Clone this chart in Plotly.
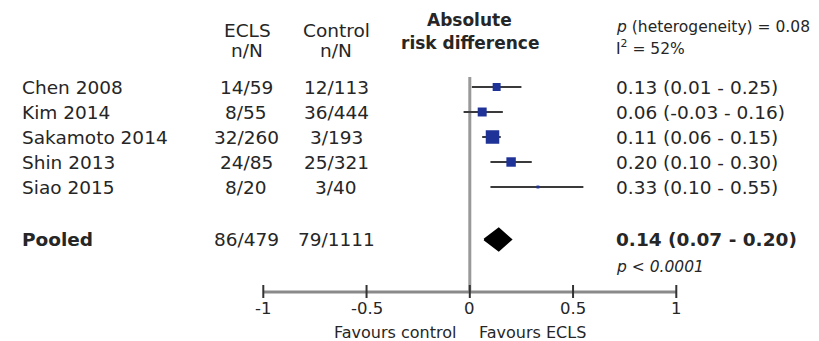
import plotly.graph_objects as go

# ---------------- data ----------------
studies = ["Chen 2008", "Kim 2014", "Sakamoto 2014", "Shin 2013", "Siao 2015"]
ecls_events = ["14/59", "8/55", "32/260", "24/85", "8/20"]
control_events = ["12/113", "36/444", "3/193", "25/321", "3/40"]
risk_diff = [0.13, 0.06, 0.11, 0.20, 0.33]
ci_low = [0.01, -0.03, 0.06, 0.10, 0.10]
ci_high = [0.25, 0.16, 0.15, 0.30, 0.55]
weights = [15, 19, 43, 21, 2]  # estimated study weights (%)

pooled_label = "Pooled"
pooled_ecls = "86/479"
pooled_control = "79/1111"
pooled_rd = 0.14
pooled_low = 0.07
pooled_high = 0.20

heterogeneity_p = "0.08"
i_squared = "52%"
pooled_p = "0.0001"

x_ticks = [-1, -0.5, 0, 0.5, 1]
x_tick_labels = ["-1", "-0.5", "0", "0.5", "1"]

# ---------------- layout constants ----------------
W, H = 819, 341
FONT = "DejaVu Sans"
TXT = "#262626"
BODY = 18.5
ROW_PX = 25.0
ROW0_PX = 87.0
X0_PX = 469.8
X_SCALE = 206.5

def px(v):
    return v / W

y_top = -ROW0_PX / ROW_PX
y_bot = y_top + H / ROW_PX
x_min = -X0_PX / X_SCALE
x_max = (W - X0_PX) / X_SCALE

rows = list(range(len(studies)))
pooled_row = len(studies) + 1.1
axis_row = 8.2

fig = go.Figure()

# study estimates with CIs
fig.add_trace(go.Scatter(
    x=risk_diff, y=rows, mode="markers",
    marker=dict(symbol="square", color="#1f3297", opacity=1,
                size=[2.06 * w ** 0.5 for w in weights], line=dict(width=0)),
    error_x=dict(type="data", symmetric=False,
                 array=[h - e for h, e in zip(ci_high, risk_diff)],
                 arrayminus=[e - l for e, l in zip(risk_diff, ci_low)],
                 width=0, thickness=2, color="#3a3a3a"),
    hoverinfo="skip", showlegend=False,
))

# pooled diamond
dh = 0.44
fig.add_trace(go.Scatter(
    x=[pooled_low, pooled_rd, pooled_high, pooled_rd, pooled_low],
    y=[pooled_row, pooled_row - dh, pooled_row, pooled_row + dh, pooled_row],
    mode="lines", fill="toself", fillcolor="#000000",
    line=dict(color="#000000", width=2), hoverinfo="skip", showlegend=False,
))

shapes = []
# zero line
shapes.append(dict(type="line", xref="x", yref="y", x0=0, x1=0, y0=-0.4, y1=axis_row,
                   line=dict(color="#999999", width=3), layer="below"))
# axis line
shapes.append(dict(type="line", xref="x", yref="y", x0=min(x_ticks), x1=max(x_ticks),
                   y0=axis_row, y1=axis_row, line=dict(color="#8a8a8a", width=3), layer="below"))
for t in x_ticks:
    shapes.append(dict(type="line", xref="x", yref="y", x0=t, x1=t,
                       y0=axis_row - 0.28, y1=axis_row + 0.24,
                       line=dict(color="#333333", width=2)))

ann = []
def A(text, x, y, xanchor="left", size=BODY, xref="paper", color=TXT):
    ann.append(dict(text=text, x=x, y=y, xref=xref, yref="y", xanchor=xanchor,
                    yanchor="middle", showarrow=False,
                    font=dict(family=FONT, size=size, color=color)))

# headers
A("ECLS", px(248), -2.28, "center")
A("n/N", px(247), -1.48, "center")
A("Control", px(336), -2.28, "center")
A("n/N", px(336), -1.48, "center")
A("<b>Absolute</b>", px(470), -2.68, "center", 17)
A("<b>risk difference</b>", px(470), -1.76, "center", 17)
A("<i>p</i> (heterogeneity) = " + heterogeneity_p, px(614), -2.4, "left", 15.5)
A("I<sup>2</sup> = " + i_squared, px(614), -1.6, "left", 15.5)

for i, s in enumerate(studies):
    A(s, px(20), rows[i], "left")
    A(ecls_events[i], px(246), rows[i], "center")
    A(control_events[i], px(336), rows[i], "center")
    A(f"{risk_diff[i]:.2f} ({ci_low[i]:.2f} - {ci_high[i]:.2f})", px(614), rows[i], "left")

A("<b>" + pooled_label + "</b>", px(20), pooled_row, "left")
A(pooled_ecls, px(246), pooled_row, "center")
A(pooled_control, px(336), pooled_row, "center")
A(f"<b>{pooled_rd:.2f} ({pooled_low:.2f} - {pooled_high:.2f})</b>", px(614), pooled_row, "left")
A("<i>p &lt; " + pooled_p + "</i>", px(614), pooled_row + 1.08, "left", 15.5)

# tick labels
for t, lab in zip(x_ticks, x_tick_labels):
    A(lab, t, axis_row + 0.64, "center", 16.5, xref="x")

A("Favours control", px(458), axis_row + 1.6, "right", 16)
A("Favours ECLS", px(477), axis_row + 1.6, "left", 16)

fig.update_layout(
    width=W, height=H,
    margin=dict(l=0, r=0, t=0, b=0, pad=0),
    paper_bgcolor="white", plot_bgcolor="white",
    xaxis=dict(range=[x_min, x_max], visible=False, fixedrange=True),
    yaxis=dict(range=[y_bot, y_top], visible=False, fixedrange=True),
    shapes=shapes, annotations=ann, showlegend=False,
)

fig.write_html("out.html")
